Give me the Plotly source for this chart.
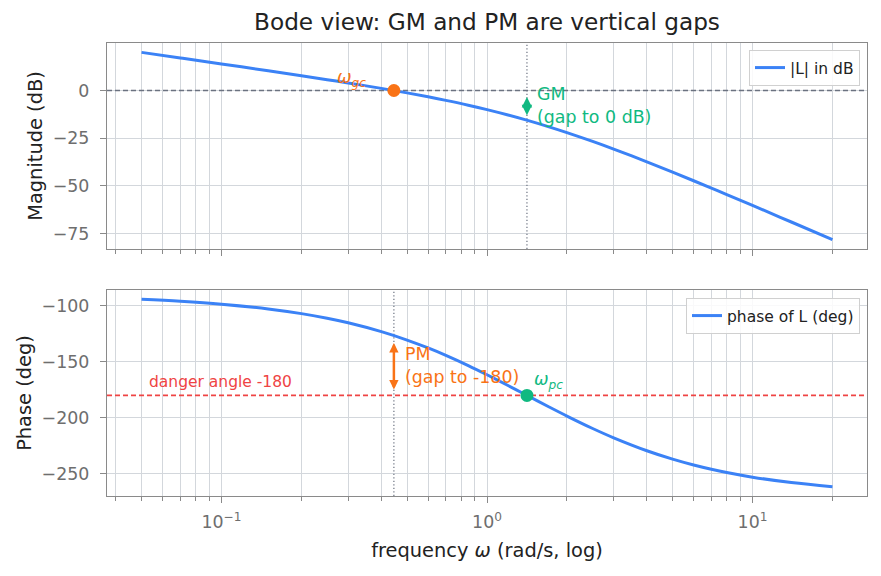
import math
import plotly.graph_objects as go

# ---------------- data ----------------
freq = [0.05, 0.07, 0.1, 0.15, 0.2, 0.25, 0.3, 0.4, 0.5, 0.6, 0.7, 0.85, 1.0,
        1.2, 1.4, 1.7, 2.0, 2.5, 3.0, 4.0, 5.0, 6.0, 7.0, 8.0, 10.0, 14.0, 20.0]
mag_db = [19.99, 17.05, 13.93, 10.34, 7.75, 5.69, 3.97, 1.12, -1.23, -3.29, -5.16,
          -7.69, -10.00, -12.81, -15.39, -18.89, -22.04, -26.67, -30.68, -37.36,
          -42.75, -47.27, -51.13, -54.52, -60.21, -68.88, -78.12]
phase_deg = [-94.29, -96.01, -98.57, -102.82, -107.02, -111.16, -115.23, -123.11,
             -130.60, -137.66, -144.28, -153.39, -161.57, -171.16, -179.45, -189.90,
             -198.43, -209.54, -217.87, -229.40, -236.89, -242.10, -245.92, -248.84,
             -252.98, -257.78, -261.43]

w_gc = 0.446          # gain crossover (|L| = 0 dB)
w_pc = 1.414          # phase crossover (phase = -180)
mag_at_pc = -15.56    # |L| in dB at w_pc
phase_at_gc = -126.6  # phase at w_gc
danger_angle = -180
danger_label_w = 0.0525

major_ticks = [0.1, 1, 10]
major_text = ["10<sup>−1</sup>", "10<sup>0</sup>", "10<sup>1</sup>"]
minor_ticks = [0.04, 0.05, 0.06, 0.07, 0.08, 0.09, 0.2, 0.3, 0.4, 0.5, 0.6, 0.7,
               0.8, 0.9, 2, 3, 4, 5, 6, 7, 8, 9, 20]
mag_ticks = [0, -25, -50, -75]
phase_ticks = [-100, -150, -200, -250]

# ---------------- styles ----------------
FONT = "DejaVu Sans"
BLUE = "#3b82f6"
ORANGE = "#f97316"
GREEN = "#10b981"
RED = "#ef4444"
GRAY = "#6b7280"
SPINE = "#8a8a8a"
GRID = "#d3d7dc"
TICKTXT = "#6e6e6e"
DARK = "#222222"

L = math.log10


def pad_range(vals, frac=0.05):
    lo, hi = min(vals), max(vals)
    s = hi - lo
    return [lo - frac * s, hi + frac * s]


xr_log = pad_range([L(freq[0]), L(freq[-1])])
x_edges = [10 ** xr_log[0], 10 ** xr_log[1]]
yr_mag = pad_range(mag_db)
yr_phase = pad_range(phase_deg)

fig = go.Figure()

# reference lines (under the curves)
fig.add_trace(go.Scatter(x=x_edges, y=[0, 0], mode="lines", showlegend=False,
                         line=dict(color=GRAY, width=1.4, dash="5px,3px"),
                         xaxis="x", yaxis="y", hoverinfo="skip"))
fig.add_trace(go.Scatter(x=[w_pc, w_pc], y=yr_mag, mode="lines", showlegend=False,
                         line=dict(color=GRAY, width=1.2, dash="1.3px,2.2px"),
                         xaxis="x", yaxis="y", hoverinfo="skip"))
fig.add_trace(go.Scatter(x=x_edges, y=[danger_angle, danger_angle], mode="lines",
                         showlegend=False, line=dict(color=RED, width=1.6, dash="5px,3px"),
                         xaxis="x2", yaxis="y2", hoverinfo="skip"))
fig.add_trace(go.Scatter(x=[w_gc, w_gc], y=yr_phase, mode="lines", showlegend=False,
                         line=dict(color=GRAY, width=1.2, dash="1.3px,2.2px"),
                         xaxis="x2", yaxis="y2", hoverinfo="skip"))

fig.add_trace(go.Scatter(x=freq, y=mag_db, mode="lines", name="|L| in dB",
                         line=dict(color=BLUE, width=3, shape="spline"),
                         xaxis="x", yaxis="y", legend="legend"))
fig.add_trace(go.Scatter(x=[w_gc], y=[0], mode="markers", showlegend=False,
                         marker=dict(color=ORANGE, size=13), xaxis="x", yaxis="y"))
fig.add_trace(go.Scatter(x=freq, y=phase_deg, mode="lines", name="phase of L (deg)",
                         line=dict(color=BLUE, width=3, shape="spline"),
                         xaxis="x2", yaxis="y2", legend="legend2"))
fig.add_trace(go.Scatter(x=[w_pc], y=[danger_angle], mode="markers", showlegend=False,
                         marker=dict(color=GREEN, size=13), xaxis="x2", yaxis="y2"))

annotations = [
    # GM double arrow
    dict(xref="x", yref="y", axref="x", ayref="y", x=L(w_pc), y=mag_at_pc,
         ax=L(w_pc), ay=0, text="", showarrow=True, arrowside="end+start",
         arrowhead=2, startarrowhead=2, arrowsize=1.05, startarrowsize=1.05,
         arrowwidth=2, arrowcolor=GREEN, standoff=5, startstandoff=5),
    dict(xref="x", yref="y", x=L(w_pc), y=mag_at_pc / 2, text="GM<br>(gap to 0 dB)",
         showarrow=False, xanchor="left", yanchor="middle", align="left", xshift=8,
         font=dict(family=FONT, size=17.4, color=GREEN)),
    dict(xref="x", yref="y", x=L(w_gc), y=0, text="<i>ω</i><sub><i>gc</i></sub>",
         showarrow=False, xanchor="right", yanchor="middle", xshift=-26, yshift=12,
         font=dict(family=FONT, size=17.4, color=ORANGE)),
    # PM double arrow
    dict(xref="x2", yref="y2", axref="x2", ayref="y2", x=L(w_gc), y=danger_angle,
         ax=L(w_gc), ay=phase_at_gc, text="", showarrow=True, arrowside="end+start",
         arrowhead=2, startarrowhead=2, arrowsize=0.75, startarrowsize=0.75,
         arrowwidth=2.5, arrowcolor=ORANGE, standoff=6, startstandoff=6),
    dict(xref="x2", yref="y2", x=L(w_gc), y=(phase_at_gc + danger_angle) / 2,
         text="PM<br>(gap to -180)", showarrow=False, xanchor="left", yanchor="middle",
         align="left", xshift=9, font=dict(family=FONT, size=17.4, color=ORANGE)),
    dict(xref="x2", yref="y2", x=L(w_pc), y=danger_angle, text="<i>ω</i><sub><i>pc</i></sub>",
         showarrow=False, xanchor="left", yanchor="middle", xshift=5, yshift=15,
         font=dict(family=FONT, size=17.4, color=GREEN)),
    dict(xref="x2", yref="y2", x=L(danger_label_w), y=danger_angle,
         text="danger angle -180", showarrow=False, xanchor="left", yanchor="bottom",
         yshift=2, font=dict(family=FONT, size=15.5, color=RED)),
]

common_x = dict(type="log", range=xr_log, tickmode="array", tickvals=major_ticks,
                ticktext=major_text, ticks="outside", ticklen=6, tickwidth=1.2,
                tickcolor=SPINE, showline=True, mirror=True, linecolor=SPINE,
                linewidth=1.3, showgrid=True, gridcolor=GRID, gridwidth=1,
                zeroline=False, tickfont=dict(family=FONT, size=17.4, color=TICKTXT),
                ticklabelstandoff=4,
                minor=dict(tickmode="array", tickvals=minor_ticks, ticks="outside",
                           ticklen=3.5, tickwidth=1, tickcolor=SPINE, showgrid=True,
                           gridcolor=GRID, gridwidth=1))
common_y = dict(ticks="outside", ticklen=6, tickwidth=1.2, tickcolor=SPINE,
                showline=True, mirror=True, linecolor=SPINE, linewidth=1.3,
                showgrid=True, gridcolor=GRID, gridwidth=1, zeroline=False,
                tickfont=dict(family=FONT, size=17.4, color=TICKTXT), tickmode="array",
                ticklabelstandoff=7)

top_frac = (496 - 249) / 453
bot_frac = (496 - 290) / 453

fig.update_layout(
    width=881, height=576,
    margin=dict(l=107, r=14, t=43, b=80),
    paper_bgcolor="white", plot_bgcolor="white",
    font=dict(family=FONT, size=16, color=DARK),
    title=dict(text="Bode view: GM and PM are vertical gaps", x=0.5, xref="paper",
               xanchor="center", y=1 - 22 / 576, yref="container", yanchor="middle",
               font=dict(family=FONT, size=23.2, color=DARK)),
    xaxis=dict(common_x, anchor="y", domain=[0, 1], showticklabels=False),
    yaxis=dict(common_y, domain=[top_frac, 1], range=yr_mag,
               tickvals=mag_ticks, anchor="x",
               title=dict(text="Magnitude (dB)", standoff=4,
                          font=dict(family=FONT, size=19.4, color=DARK))),
    xaxis2=dict(common_x, anchor="y2", domain=[0, 1], matches="x",
                title=dict(text="frequency <i>ω</i> (rad/s, log)", standoff=12,
                           font=dict(family=FONT, size=19.4, color=DARK))),
    yaxis2=dict(common_y, domain=[0, bot_frac], range=yr_phase,
                tickvals=phase_ticks, anchor="x2",
                title=dict(text="Phase (deg)", standoff=4,
                           font=dict(family=FONT, size=19.4, color=DARK))),
    legend=dict(x=(860 - 107) / 760, y=(496 - 50) / 453, xanchor="right", yanchor="top",
                bgcolor="rgba(255,255,255,0.85)", bordercolor="#d0d0d0", borderwidth=1,
                font=dict(family=FONT, size=15.5, color=DARK)),
    legend2=dict(x=(860 - 107) / 760, y=(496 - 298) / 453, xanchor="right", yanchor="top",
                 bgcolor="rgba(255,255,255,0.85)", bordercolor="#d0d0d0", borderwidth=1,
                 font=dict(family=FONT, size=15.5, color=DARK)),
    annotations=annotations,
)

fig.write_html("out.html")
